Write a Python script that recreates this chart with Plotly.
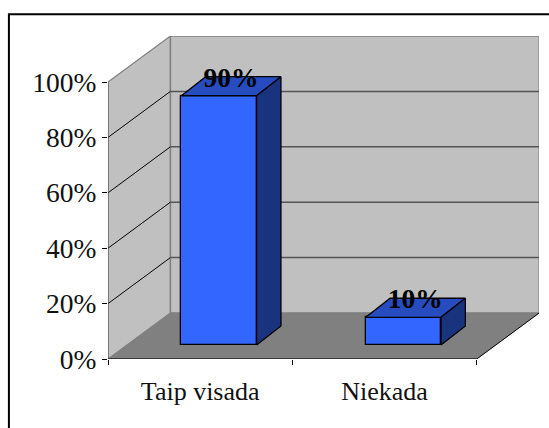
import plotly.graph_objects as go

categories = ["Taip visada", "Niekada"]
values = [90, 10]
y_ticks = [0, 20, 40, 60, 80, 100]
y_labels = ["0%", "20%", "40%", "60%", "80%", "100%"]
bar_labels = ["90%", "10%"]

W, H = 549, 428
L, R, T, B = 107.5, 539.0, 36.0, 358.7
PX_X = 184.6
PX_Y = 2.767
x0, x1 = -0.5, -0.5 + (R - L) / PX_X
y0, y1 = 0, (B - T) / PX_Y
DX, DY = 62.5 / PX_X, 46.0 / PX_Y      # depth of the wall box
BAR_W = 75.3 / PX_X
BAR_SHIFT = 18.8 / PX_X
BAR_BASE = 14.0 / PX_Y
BAR_DX, BAR_DY = 24.4 / PX_X, 19.0 / PX_Y
LABEL_DX, LABEL_DY = 12.0 / PX_X, 5.8

FONT = "Liberation Serif"
FRONT, TOP, SIDE = "#3366FF", "#264CBF", "#19337F"
WALL, FLOOR, EDGE = "#C0C0C0", "#808080", "#808080"

xa, xb = -0.5, 1.5
def poly(xs, ys, fill, edge, w, layer="below"):
    path = "M" + " L".join(f"{a},{b}" for a, b in zip(xs, ys)) + " Z"
    return dict(type="path", path=path, xref="x", yref="y", fillcolor=fill, layer=layer,
                line=dict(color=edge, width=w))
def seg(xa_, ya_, xb_, yb_, color, w):
    return dict(type="line", xref="x", yref="y", x0=xa_, y0=ya_, x1=xb_, y1=yb_, layer="below",
                line=dict(color=color, width=w))

shapes = [
    poly([xa, xa + DX, xa + DX, xa], [0, DY, 100 + DY, 100], WALL, EDGE, 1.2),
    poly([xa + DX, xb + DX, xb + DX, xa + DX], [DY, DY, 100 + DY, 100 + DY], WALL, EDGE, 1.5),
    poly([xa, xb, xb + DX, xa + DX], [0, 0, DY, DY], FLOOR, FLOOR, 0.5),
]
for t in y_ticks[1:-1]:
    shapes.append(seg(xa, t, xa + DX, t + DY, "#000000", 1))
    shapes.append(seg(xa + DX, t + DY, xb + DX, t + DY, "#555555", 1.5))
shapes += [
    seg(xa, 0, xa, 100, "#555555", 1),
    seg(xa, 0, xb, 0, "#222222", 1.6),
    seg(xb, 0, xb + DX, DY, "#000000", 1),
    dict(type="rect", xref="paper", yref="paper",
         x0=(8.3 - L) / (R - L), x1=(565 - L) / (R - L),
         y0=(B - 445) / (B - T), y1=(B - 14.2) / (B - T),
         line=dict(color="#000000", width=2), fillcolor="rgba(0,0,0,0)", layer="below"),
]

fig = go.Figure()
pos = [i + BAR_SHIFT for i in range(len(values))]
fig.add_trace(go.Bar(x=pos, y=values, base=[BAR_BASE] * len(values), width=BAR_W,
                     marker=dict(color=FRONT, line=dict(color="#000000", width=1.3)),
                     hoverinfo="skip", showlegend=False))
for p, v in zip(pos, values):
    l, r = p - BAR_W / 2, p + BAR_W / 2
    b, t = BAR_BASE, BAR_BASE + v
    fig.add_trace(go.Scatter(x=[l, r, r + BAR_DX, l + BAR_DX, l],
                             y=[t, t, t + BAR_DY, t + BAR_DY, t],
                             mode="lines", fill="toself", fillcolor=TOP,
                             line=dict(color="#000000", width=1.3), hoverinfo="skip", showlegend=False))
    fig.add_trace(go.Scatter(x=[r, r + BAR_DX, r + BAR_DX, r, r],
                             y=[b, b + BAR_DY, t + BAR_DY, t, b],
                             mode="lines", fill="toself", fillcolor=SIDE,
                             line=dict(color="#000000", width=1.3), hoverinfo="skip", showlegend=False))
fig.add_trace(go.Scatter(x=[p + LABEL_DX for p in pos],
                         y=[BAR_BASE + v + LABEL_DY for v in values],
                         text=[f"<b>{s}</b>" for s in bar_labels], mode="text",
                         textposition="middle center", cliponaxis=False,
                         textfont=dict(family=FONT, size=27.5, color="#000000"),
                         hoverinfo="skip", showlegend=False))

fig.update_layout(
    width=W, height=H, autosize=False,
    margin=dict(l=L, r=W - R, t=T, b=H - B, pad=0),
    paper_bgcolor="#FFFFFF", plot_bgcolor="rgba(0,0,0,0)",
    shapes=shapes, showlegend=False, bargap=0,
    font=dict(family=FONT, color="#000000"),
    xaxis=dict(range=[x0, x1], tickmode="array", tickvals=[0, 1], ticktext=categories,
               ticks="outside", ticklen=9, tickcolor="rgba(0,0,0,0)",
               tickfont=dict(family=FONT, size=26, color="#111111"),
               showgrid=False, zeroline=False, showline=False, fixedrange=True,
               minor=dict(tickmode="array", tickvals=[-0.5, 0.5, 1.5], ticks="outside",
                          ticklen=5, tickcolor="#000000", tickwidth=1, showgrid=False)),
    yaxis=dict(range=[y0, y1], tickmode="array", tickvals=y_ticks, ticktext=y_labels,
               ticks="outside", ticklen=5, tickcolor="#000000", tickwidth=1,
               tickfont=dict(family=FONT, size=27.5, color="#111111"),
               showgrid=False, zeroline=False, showline=False, fixedrange=True),
)
fig.write_html("out.html", config={"displayModeBar": False},
               post_script="document.body.style.margin='0';document.documentElement.style.overflow='hidden';")
